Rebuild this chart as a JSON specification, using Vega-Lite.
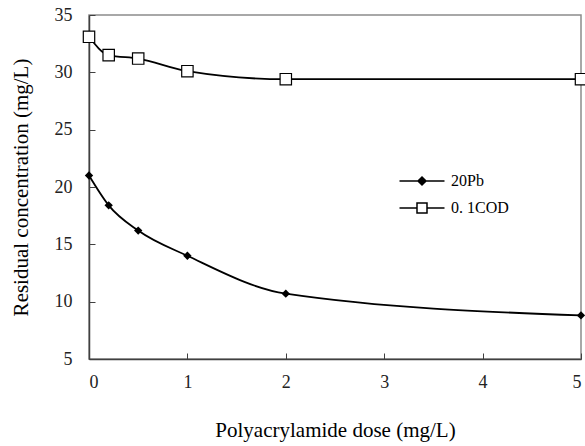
{
  "$schema": "https://vega.github.io/schema/vega-lite/v6.json",
  "width": 492,
  "height": 344,
  "autosize": {"type": "none"},
  "padding": {"left": 89, "top": 15, "right": 4, "bottom": 87},
  "background": "white",
  "config": {
    "view": {"stroke": "#8c8c8c", "strokeWidth": 1.5},
    "font": "Liberation Serif",
    "axis": {
      "grid": false,
      "domainColor": "#404040",
      "domainWidth": 1.5,
      "tickColor": "#404040",
      "tickSize": -6,
      "labelFont": "Liberation Serif",
      "labelFontSize": 18,
      "labelColor": "#222",
      "titleFont": "Liberation Serif",
      "titleFontSize": 21,
      "titleFontWeight": "normal",
      "titleColor": "black"
    }
  },
  "data": {
    "values": [
      {"dose": 0, "value": 21.0, "series": "20Pb"},
      {"dose": 0.2, "value": 18.4, "series": "20Pb"},
      {"dose": 0.5, "value": 16.2, "series": "20Pb"},
      {"dose": 1, "value": 14.0, "series": "20Pb"},
      {"dose": 2, "value": 10.7, "series": "20Pb"},
      {"dose": 5, "value": 8.8, "series": "20Pb"},
      {"dose": 0, "value": 33.1, "series": "0. 1COD"},
      {"dose": 0.2, "value": 31.5, "series": "0. 1COD"},
      {"dose": 0.5, "value": 31.2, "series": "0. 1COD"},
      {"dose": 1, "value": 30.1, "series": "0. 1COD"},
      {"dose": 2, "value": 29.4, "series": "0. 1COD"},
      {"dose": 5, "value": 29.4, "series": "0. 1COD"}
    ]
  },
  "encoding": {
    "x": {
      "field": "dose",
      "type": "quantitative",
      "scale": {"domain": [0, 5], "nice": false},
      "axis": {"title": "Polyacrylamide dose (mg/L)", "values": [0, 1, 2, 3, 4, 5], "labelPadding": 20, "titlePadding": 28}
    },
    "y": {
      "field": "value",
      "type": "quantitative",
      "scale": {"domain": [5, 35], "nice": false, "zero": false},
      "axis": {"title": "Residual concentration (mg/L)", "values": [5, 10, 15, 20, 25, 30, 35], "labelPadding": 23, "titlePadding": 23}
    }
  },
  "layer": [
    {
      "mark": {"type": "line", "interpolate": "monotone", "strokeWidth": 1.8},
      "encoding": {
        "color": {
          "field": "series",
          "type": "nominal",
          "scale": {"domain": ["20Pb", "0. 1COD"], "range": ["black", "black"]},
          "legend": {
            "orient": "none",
            "legendX": 322,
            "legendY": 155,
            "title": null,
            "symbolSize": 400,
            "rowPadding": 8,
            "labelFont": "Liberation Serif",
            "labelFontSize": 16,
            "labelColor": "black",
            "labelOffset": 18,
            "encode": {
              "symbols": {
                "update": {
                  "shape": {"signal": "datum.value === '20Pb' ? 'M-2.25,0H2.25M0,-0.4L0.4,0L0,0.4L-0.4,0Z' : 'M-2.25,0H-0.5M0.5,0H2.25M-0.5,-0.5H0.5V0.5H-0.5Z'"},
                  "fill": {"signal": "datum.value === '20Pb' ? 'black' : 'white'"},
                  "stroke": {"value": "black"},
                  "strokeWidth": {"value": 1.5},
                  "opacity": {"value": 1}
                }
              }
            }
          }
        }
      }
    },
    {
      "transform": [{"filter": "datum.series === '20Pb'"}],
      "mark": {"type": "point", "shape": "diamond", "filled": true, "color": "black", "opacity": 1, "size": 70}
    },
    {
      "transform": [{"filter": "datum.series !== '20Pb'"}],
      "mark": {"type": "point", "shape": "square", "filled": true, "fill": "white", "stroke": "black", "strokeWidth": 1.2, "opacity": 1, "size": 130}
    }
  ]
}
